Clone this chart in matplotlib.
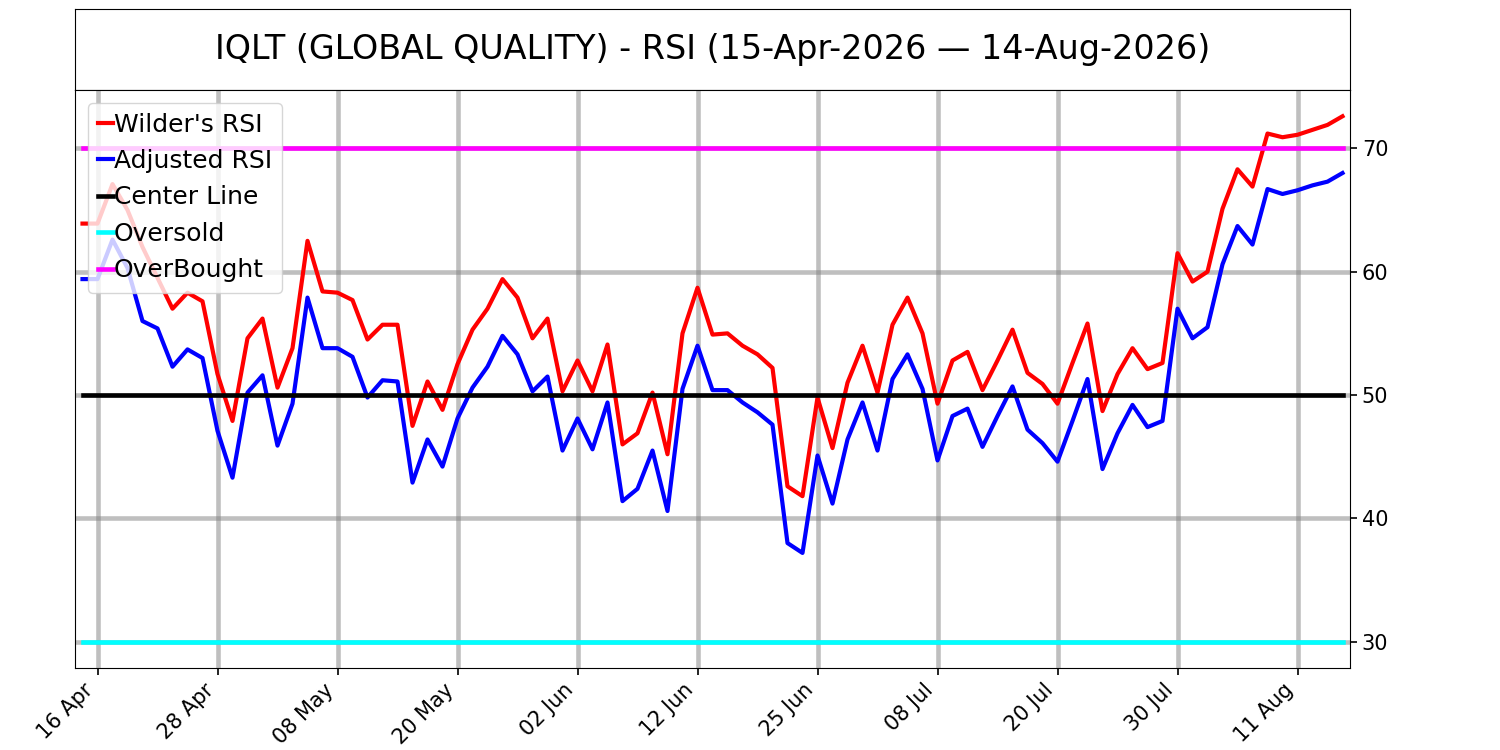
import numpy as np
import pandas as pd
import matplotlib
matplotlib.use('Agg')
import matplotlib.pyplot as plt

# trading days 15-Apr-2026 .. 14-Aug-2026 (US holidays skipped)
holidays = ['2026-05-25', '2026-06-19', '2026-07-03']
dates = pd.bdate_range('2026-04-15', '2026-08-14')
dates = dates[~dates.isin(pd.to_datetime(holidays))]

wilder_rsi = [63.9, 63.9, 67.1, 65.0, 62.0, 59.5, 57.0, 58.3, 57.6, 51.7,
              47.9, 54.6, 56.2, 50.6, 53.8, 62.5, 58.4, 58.3, 57.7, 54.5,
              55.7, 55.7, 47.5, 51.1, 48.8, 52.5, 55.3, 57.0, 59.4, 57.9,
              54.6, 56.2, 50.3, 52.8, 50.3, 54.1, 46.0, 46.9, 50.2, 45.2,
              55.0, 58.7, 54.9, 55.0, 54.0, 53.3, 52.2, 42.6, 41.8, 49.8,
              45.7, 51.0, 54.0, 50.2, 55.7, 57.9, 55.0, 49.3, 52.8, 53.5,
              50.4, 52.8, 55.3, 51.8, 50.9, 49.3, 52.6, 55.8, 48.7, 51.7,
              53.8, 52.1, 52.6, 61.5, 59.2, 60.0, 65.1, 68.3, 66.9, 71.2,
              70.9, 71.1, 71.5, 71.9, 72.6]
adjusted_rsi = [59.4, 59.4, 62.6, 60.3, 56.0, 55.4, 52.3, 53.7, 53.0, 47.1,
                43.3, 50.2, 51.6, 45.9, 49.3, 57.9, 53.8, 53.8, 53.1, 49.8,
                51.2, 51.1, 42.9, 46.4, 44.2, 48.1, 50.6, 52.3, 54.8, 53.3,
                50.3, 51.5, 45.5, 48.1, 45.6, 49.4, 41.4, 42.4, 45.5, 40.6,
                50.5, 54.0, 50.4, 50.4, 49.4, 48.6, 47.6, 38.0, 37.2, 45.1,
                41.2, 46.4, 49.4, 45.5, 51.3, 53.3, 50.5, 44.7, 48.3, 48.9,
                45.8, 48.3, 50.7, 47.2, 46.1, 44.6, 47.9, 51.3, 44.0, 46.9,
                49.2, 47.4, 47.9, 57.0, 54.6, 55.5, 60.6, 63.7, 62.2, 66.7,
                66.3, 66.6, 67.0, 67.3, 68.0]
center_level = 50
oversold_level = 30
overbought_level = 70

x = np.arange(len(dates))

fig = plt.figure(figsize=(15, 7.5), dpi=100)
ax_title = fig.add_axes([0.05, 0.88, 0.85, 0.108])
ax = fig.add_axes([0.05, 0.1093, 0.85, 0.7707])

ax_title.set_xticks([])
ax_title.set_yticks([])
ax_title.text(0.5, 0.5, 'IQLT (GLOBAL QUALITY) - RSI (15-Apr-2026 \u2014 14-Aug-2026)',
              ha='center', va='center', fontsize=24, transform=ax_title.transAxes)

ax.plot(x, wilder_rsi, color='red', lw=3, label="Wilder's RSI")
ax.plot(x, adjusted_rsi, color='blue', lw=3, label='Adjusted RSI')
ax.plot(x, [center_level] * len(x), color='black', lw=3.3, label='Center Line')
ax.plot(x, [oversold_level] * len(x), color='cyan', lw=3.3, label='Oversold')
ax.plot(x, [overbought_level] * len(x), color='magenta', lw=3.3, label='OverBought')

ax.set_xlim(-0.5, len(x) - 0.5)
ax.yaxis.tick_right()
ax.set_yticks([30, 40, 50, 60, 70])
ax.tick_params(axis='both', labelsize=15, length=5, width=1.2)

tick_locs = x[1::8]
ax.set_xticks(tick_locs)
ax.set_xticklabels([d.strftime('%d %b') for d in dates[1::8]],
                   rotation=45, ha='right')

ax.grid(True, color='gray', alpha=0.5, lw=3.3)
ax.set_axisbelow(True)

ax.legend(loc='upper left', fontsize=18, handlelength=0.6, handletextpad=0.05,
          labelspacing=0.5)

plt.savefig('out.png')
